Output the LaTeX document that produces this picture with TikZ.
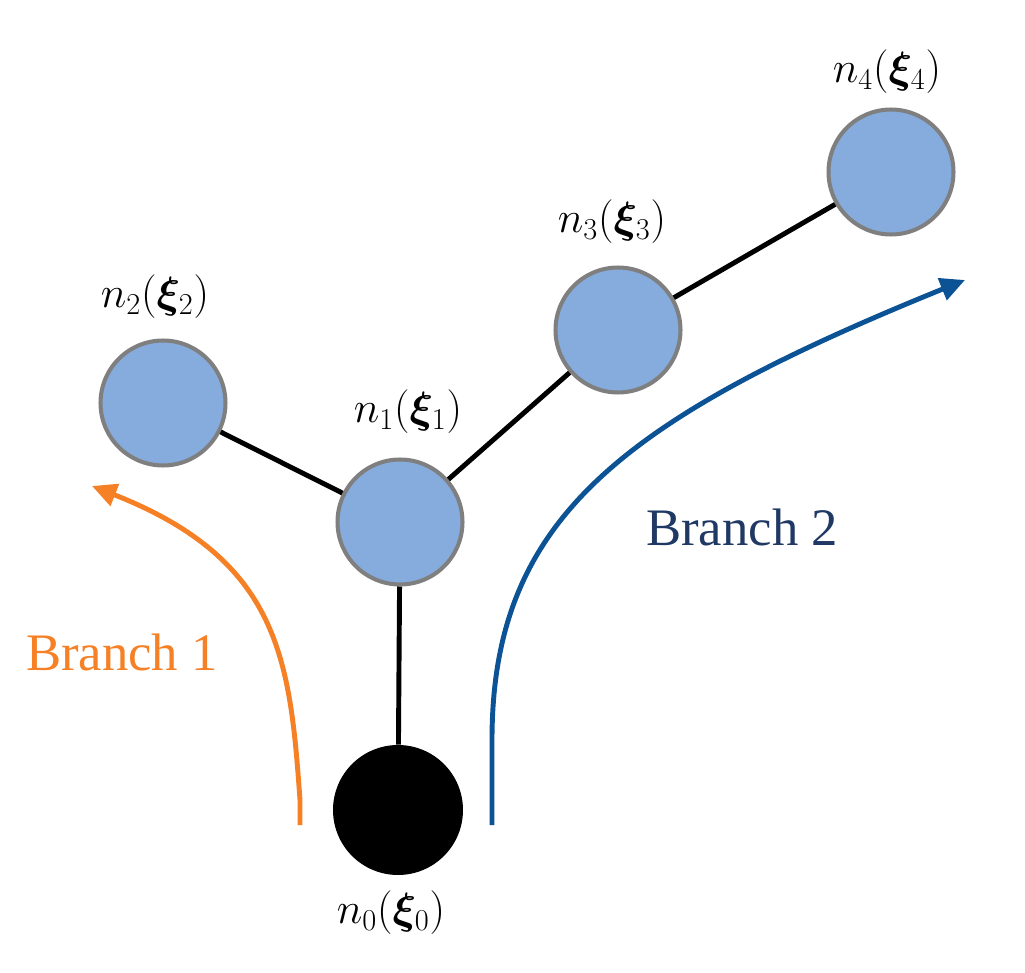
\documentclass[tikz,border=0pt]{standalone}
\usepackage{amsmath,amssymb,bm}
\usepackage{fontspec}
\newfontfamily\tnr{Liberation Serif}
\usetikzlibrary{arrows.meta}
\definecolor{nodeblue}{HTML}{85ACDC}
\definecolor{bor}{HTML}{7F7F7F}
\definecolor{org}{HTML}{F58025}
\definecolor{blu}{HTML}{0B5394}
\definecolor{dblu}{HTML}{1F3864}
\begin{document}
\begin{tikzpicture}[x=0.02cm,y=-0.02cm,
  nd/.style={circle,minimum size=2.5cm,inner sep=0,fill=nodeblue,draw=bor,line width=2.3pt},
  lb/.style={font=\fontsize{25}{30}\selectfont},
  ed/.style={line width=2.8pt,black},
  br/.style={line width=2.8pt,-{Triangle[length=14pt,width=13pt]}},
  bt/.style={font=\tnr\fontsize{30}{36}\selectfont}]
\useasboundingbox (0,0) rectangle (1025,973);
\node[nd] (n1) at (400,522) {};
\node[nd] (n2) at (163,403) {};
\node[nd] (n3) at (618,330) {};
\node[nd] (n4) at (891,172) {};
\node[circle,minimum size=2.6cm,inner sep=0,fill=black] (n0) at (398,810) {};
\draw[ed] (n0) -- (n1);
\draw[ed] (n1) -- (n2);
\draw[ed] (n1) -- (n3);
\draw[ed] (n3) -- (n4);
\node[lb] (l0) at (391,913) {$n_0(\bm{\xi}_0)$};
\node[lb] (l1) at (408,412) {$n_1(\bm{\xi}_1)$};
\node[lb] (l2) at (155,297) {$n_2(\bm{\xi}_2)$};
\node[lb] (l3) at (612,222) {$n_3(\bm{\xi}_3)$};
\node[lb] (l4) at (887,72) {$n_4(\bm{\xi}_4)$};
\coordinate (a1) at (300,825);
\coordinate (b1) at (92,486);
\coordinate (a2) at (492,825);
\coordinate (b2) at (965,280);
\draw[br,org] (a1) -- (300,800) .. controls (290,660) and (280,560) .. (b1);
\draw[br,blu] (a2) -- (492,740) .. controls (492,520) and (620,420) .. (b2);
\node[bt,text=org] (t1) at (122,652) {Branch 1};
\node[bt,text=dblu] (t2) at (742,527) {Branch 2};
\end{tikzpicture}
\end{document}
